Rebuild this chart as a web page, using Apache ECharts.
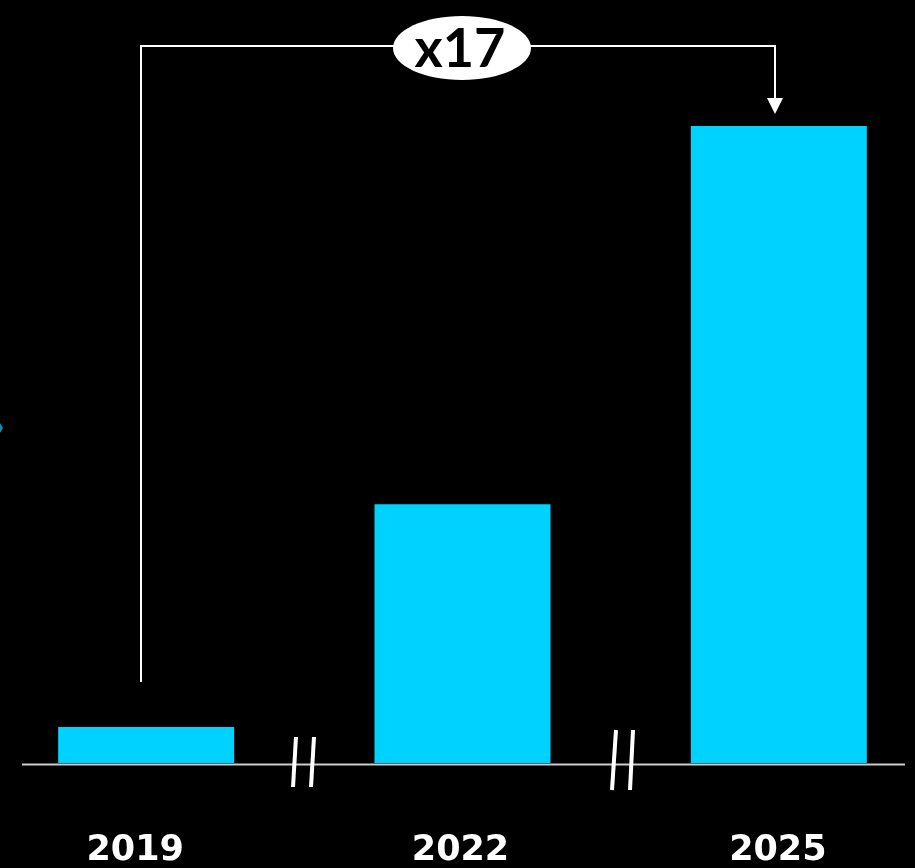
<!DOCTYPE html>
<html>
<head>
<meta charset="utf-8">
<script src="https://cdn.jsdelivr.net/npm/echarts@6/dist/echarts.min.js"></script>
<style>
html,body{margin:0;padding:0;background:#000;overflow:hidden;}
#chart{position:absolute;left:-12px;top:0;width:949px;height:868px;}
</style>
</head>
<body>
<div id="chart"></div>
<script>
const categories = ['2019', '2022', '2025'];
const values = [36, 259, 638];
const multiplierLabel = 'x17';

const OX = 12; // container offset
const labelShift = [22, 4, 2];

function render() {
  const chart = echarts.init(document.getElementById('chart'));
  const option = {
    backgroundColor: '#000000',
    animation: false,
    grid: { left: 0, right: 0, top: 64, bottom: 104, containLabel: false },
    xAxis: {
      type: 'category',
      data: categories.map((c, i) => ({ value: c, textStyle: { padding: [0, labelShift[i], 0, 0] } })),
      axisLine: { show: false },
      axisTick: { show: false },
      axisLabel: {
        color: '#ffffff',
        fontFamily: 'DejaVu Sans',
        fontWeight: 'bold',
        fontSize: 35,
        lineHeight: 35,
        margin: 70
      }
    },
    yAxis: { type: 'value', min: 0, max: 700, show: false, splitLine: { show: false } },
    series: [{
      type: 'bar',
      data: values,
      barWidth: 176,
      itemStyle: { color: '#00D2FF' }
    }],
    graphic: [
      { type: 'line', shape: { x1: 22 + OX, y1: 764.5, x2: 905 + OX, y2: 764.5 }, style: { stroke: '#cccccc', lineWidth: 2 }, z: 1 },
      // break marks
      { type: 'line', shape: { x1: 296 + OX, y1: 737, x2: 293 + OX, y2: 787 }, style: { stroke: '#ffffff', lineWidth: 4 }, z: 10 },
      { type: 'line', shape: { x1: 314 + OX, y1: 737, x2: 311 + OX, y2: 787 }, style: { stroke: '#ffffff', lineWidth: 4 }, z: 10 },
      { type: 'line', shape: { x1: 616 + OX, y1: 730, x2: 612 + OX, y2: 790 }, style: { stroke: '#ffffff', lineWidth: 4 }, z: 10 },
      { type: 'line', shape: { x1: 633 + OX, y1: 730, x2: 630 + OX, y2: 790 }, style: { stroke: '#ffffff', lineWidth: 4 }, z: 10 },
      // connector
      { type: 'polyline', shape: { points: [[141 + OX, 682], [141 + OX, 46], [775 + OX, 46], [775 + OX, 100]] }, style: { stroke: '#ffffff', lineWidth: 2, fill: null }, z: 10 },
      { type: 'polygon', shape: { points: [[767 + OX, 98], [783 + OX, 98], [775 + OX, 114]] }, style: { fill: '#ffffff' }, z: 10 },
      { type: 'ellipse', shape: { cx: 462 + OX, cy: 48, rx: 69, ry: 32 }, style: { fill: '#ffffff' }, z: 11 },
      { type: 'text', x: 460 + OX, y: 50, style: { text: multiplierLabel, fill: '#000000', fontFamily: 'Lato', fontWeight: 'bold', fontSize: 54, align: 'center', verticalAlign: 'middle' }, z: 12 },
      // small cut-off marker at left edge
      { type: 'polygon', shape: { points: [[0 + OX, 423], [3 + OX, 428], [0 + OX, 433]] }, style: { fill: '#0a8fb0' }, z: 10 }
    ]
  };
  chart.setOption(option);
}

if (document.fonts && document.fonts.load) {
  Promise.all([
    document.fonts.load('bold 54px Lato', 'x17'),
    document.fonts.load('bold 35px "DejaVu Sans"', '2019')
  ]).then(render, render);
} else {
  render();
}
</script>
</body>
</html>
